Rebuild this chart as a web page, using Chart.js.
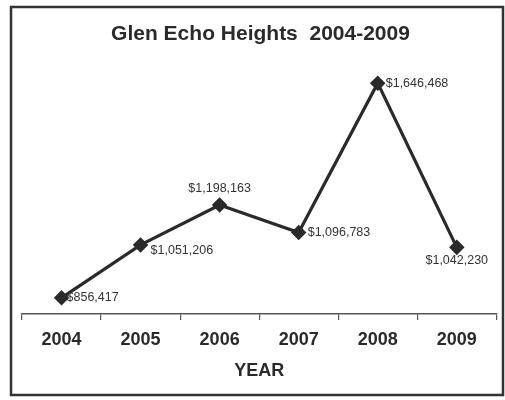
<!DOCTYPE html>
<html>
<head>
<meta charset="utf-8">
<script src="https://cdn.jsdelivr.net/npm/chart.js@4/dist/chart.umd.min.js"></script>
<style>
  html, body { margin: 0; padding: 0; background: #fff; }
  #wrap { width: 505px; height: 400px; position: relative; }
</style>
</head>
<body>
<div id="wrap"><canvas id="c" width="505" height="400"></canvas></div>
<script>
const categories = ['2004', '2005', '2006', '2007', '2008', '2009'];
const values = [856417, 1051206, 1198163, 1096783, 1646468, 1042230];
const valueLabels = ['$856,417', '$1,051,206', '$1,198,163', '$1,096,783', '$1,646,468', '$1,042,230'];
const chartTitle = 'Glen Echo Heights  2004-2009';
const xAxisTitle = 'YEAR';

// label placement relative to each point (style only)
const labelPlacement = [
  { dx: 5, dy: 0, align: 'left' },
  { dx: 10, dy: 6, align: 'left' },
  { dx: 0, dy: -16, align: 'center' },
  { dx: 9, dy: 0, align: 'left' },
  { dx: 8, dy: 0, align: 'left' },
  { dx: 0, dy: 13, align: 'center' }
];

const ink = '#2a2a2a';

const borderPlugin = {
  id: 'frame',
  beforeDraw(chart) {
    const ctx = chart.ctx;
    ctx.save();
    ctx.fillStyle = '#fff';
    ctx.fillRect(0, 0, chart.width, chart.height);
    ctx.strokeStyle = '#333';
    ctx.lineWidth = 2.5;
    ctx.strokeRect(11, 7, 492, 388);
    ctx.restore();
  }
};

const labelPlugin = {
  id: 'valueLabels',
  afterDatasetsDraw(chart) {
    const ctx = chart.ctx;
    const meta = chart.getDatasetMeta(0);
    ctx.save();
    ctx.font = '12.5px "Liberation Sans", Arial, sans-serif';
    ctx.fillStyle = '#333';
    ctx.textBaseline = 'middle';
    meta.data.forEach((pt, i) => {
      const p = labelPlacement[i];
      ctx.textAlign = p.align;
      ctx.fillText(valueLabels[i], pt.x + p.dx, pt.y + p.dy);
    });
    ctx.restore();
  }
};

new Chart(document.getElementById('c'), {
  type: 'line',
  data: {
    labels: categories,
    datasets: [{
      data: values,
      borderColor: ink,
      backgroundColor: ink,
      borderWidth: 3.2,
      pointStyle: 'rectRot',
      pointRadius: 5.5,
      pointBackgroundColor: ink,
      pointBorderColor: ink,
      tension: 0,
      fill: false
    }]
  },
  options: {
    responsive: false,
    animation: false,
    devicePixelRatio: 1,
    layout: { padding: { left: 22, right: 6, top: 0, bottom: 12 } },
    plugins: {
      legend: { display: false },
      tooltip: { enabled: false },
      title: {
        display: true,
        text: chartTitle,
        color: '#2a2a2a',
        font: { family: '"Liberation Sans", Arial, sans-serif', size: 21, weight: 'bold' },
        padding: { top: 22, bottom: 13 }
      }
    },
    scales: {
      x: {
        offset: true,
        grid: {
          display: true,
          drawOnChartArea: false,
          drawTicks: true,
          tickLength: 6,
          color: '#555',
          lineWidth: 1.2,
          offset: true
        },
        border: { display: true, color: '#555', width: 1.5 },
        ticks: {
          color: '#2a2a2a',
          padding: 13,
          font: { family: '"Liberation Sans", Arial, sans-serif', size: 18, weight: 'bold', lineHeight: 0.8 }
        },
        title: {
          display: true,
          text: xAxisTitle,
          color: '#2a2a2a',
          font: { family: '"Liberation Sans", Arial, sans-serif', size: 18, weight: 'bold' },
          padding: { top: 0, bottom: 6 }
        }
      },
      y: {
        display: false,
        min: 797000,
        max: 1731000
      }
    }
  },
  plugins: [borderPlugin, labelPlugin]
});
</script>
</body>
</html>
